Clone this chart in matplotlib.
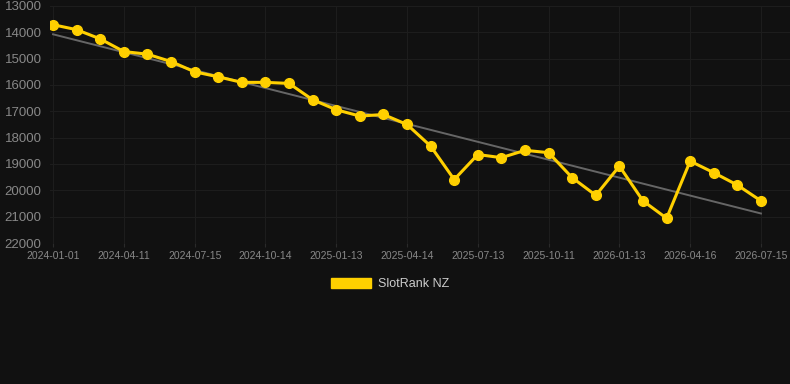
import numpy as np
import matplotlib
matplotlib.use('Agg')
import matplotlib.pyplot as plt
from matplotlib.patches import Patch

plt.rcParams['font.family'] = ['Liberation Sans', 'DejaVu Sans']

# roughly monthly snapshots, every third one is labelled on the axis
dates = ['2024-01-01', '2024-02-03', '2024-03-08', '2024-04-11', '2024-05-13', '2024-06-13',
         '2024-07-15', '2024-08-14', '2024-09-13', '2024-10-14', '2024-11-13', '2024-12-13',
         '2025-01-13', '2025-02-12', '2025-03-14', '2025-04-14', '2025-05-14', '2025-06-13',
         '2025-07-13', '2025-08-12', '2025-09-11', '2025-10-11', '2025-11-12', '2025-12-13',
         '2026-01-13', '2026-02-13', '2026-03-16', '2026-04-16', '2026-05-16', '2026-06-15',
         '2026-07-15']
ranks = [13710, 13900, 14250, 14730, 14830, 15110, 15500, 15690, 15900, 15900, 15940, 16560,
         16940, 17180, 17120, 17500, 18320, 19590, 18640, 18760, 18480, 18570, 19520, 20190,
         19080, 20400, 21060, 18890, 19330, 19800, 20400]
series_name = 'SlotRank NZ'
yticks = [13000, 14000, 15000, 16000, 17000, 18000, 19000, 20000, 21000, 22000]

bg = '#111111'
yellow = '#ffd000'

fig = plt.figure(figsize=(7.9, 3.84), dpi=100, facecolor=bg)
ax = fig.add_axes([50/790, 1-243/384, 740/790, 237/384], facecolor=bg)

x = np.arange(len(dates))
# trend line (least squares)
k, b = np.polyfit(x, ranks, 1)
ax.plot(x, k*x + b, color='#666666', lw=1.4, zorder=2)
ax.plot(x, ranks, color=yellow, lw=2.2, marker='o', ms=7, zorder=3)

ax.set_xlim(-0.13, 31.23)
ax.set_ylim(22000, 13000)
ax.set_yticks(yticks)
ax.set_yticklabels([str(v) for v in yticks])
ax.set_xticks(x[::3])
ax.set_xticklabels(dates[::3])

ax.grid(True, color='#1d1d1d', lw=0.8)
ax.set_axisbelow(True)
for s in ax.spines.values():
    s.set_visible(False)
ax.tick_params(axis='y', length=0, pad=6, labelsize=9.5, labelcolor='#888888')
ax.tick_params(axis='x', length=3, color='#2a2a2a', pad=3, labelsize=7.5, labelcolor='#888888')

fig.legend(handles=[Patch(color=yellow, label=series_name)], loc='center',
           bbox_to_anchor=(390/790, 1-284/384), frameon=False, fontsize=9,
           labelcolor='#cccccc', handlelength=3.2, handleheight=0.9, handletextpad=0.5)

fig.savefig('out.png', dpi=100, facecolor=bg)
